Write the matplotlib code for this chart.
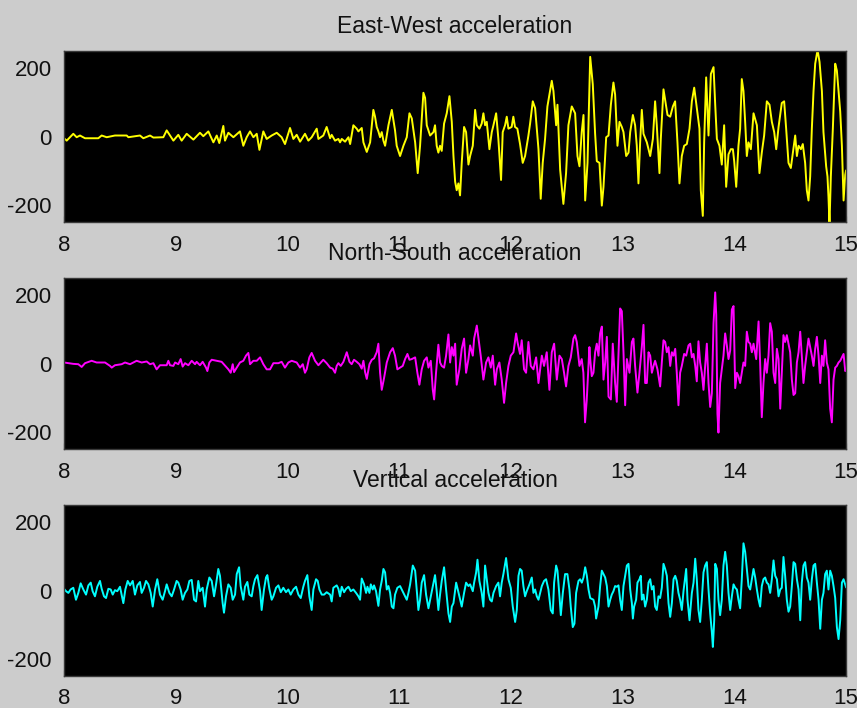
import matplotlib
matplotlib.use("Agg")
import matplotlib.pyplot as plt

# --- data (time in s, acceleration) ---
ew_time = [8.000, 8.024, 8.083, 8.113, 8.143, 8.188, 8.307, 8.337, 8.382, 8.456,
           8.561, 8.576, 8.680, 8.710, 8.770, 8.800, 8.889, 8.919, 8.949, 8.979,
           9.023, 9.053, 9.098, 9.158, 9.217, 9.247, 9.292, 9.337, 9.367, 9.390,
           9.426, 9.441, 9.471, 9.516, 9.575, 9.605, 9.635, 9.665, 9.695, 9.725,
           9.749, 9.784, 9.814, 9.859, 9.904, 9.948, 9.978, 10.023, 10.053, 10.083,
           10.113, 10.157, 10.187, 10.217, 10.262, 10.277, 10.321, 10.351,
           10.382, 10.396, 10.426, 10.456, 10.471, 10.486, 10.516, 10.546, 10.561, 10.590,
           10.620, 10.635, 10.665, 10.680, 10.710, 10.740, 10.769, 10.784, 10.799, 10.814,
           10.829, 10.844, 10.859, 10.874, 10.904, 10.934, 10.963, 10.978, 11.008, 11.038,
           11.068, 11.092, 11.113, 11.143, 11.166, 11.187, 11.217, 11.232, 11.247, 11.277,
           11.307, 11.321, 11.336, 11.351, 11.366, 11.381, 11.402, 11.426, 11.450, 11.471,
           11.486, 11.501, 11.515, 11.530, 11.545, 11.560, 11.581, 11.599, 11.620, 11.635,
           11.659, 11.680, 11.695, 11.718, 11.739, 11.754, 11.769, 11.784, 11.808, 11.829,
           11.844, 11.868, 11.888, 11.903, 11.912, 11.927, 11.948, 11.963, 11.978, 12.007,
           12.022, 12.037, 12.058, 12.082, 12.106, 12.127, 12.157, 12.172, 12.196, 12.217,
           12.247, 12.267, 12.285, 12.306, 12.327, 12.345, 12.366, 12.381, 12.405, 12.417,
           12.441, 12.470, 12.494, 12.515, 12.545, 12.575, 12.596, 12.614, 12.634,
           12.650, 12.665, 12.686, 12.710, 12.733, 12.754, 12.769, 12.793, 12.814, 12.829,
           12.853, 12.874, 12.895, 12.918, 12.933, 12.954, 12.972, 12.993, 13.008, 13.032,
           13.053, 13.068, 13.092, 13.112, 13.127, 13.142, 13.157, 13.172, 13.187, 13.217,
           13.247, 13.271, 13.291, 13.306, 13.330, 13.342, 13.366, 13.390, 13.402, 13.426,
           13.450, 13.470, 13.491, 13.509, 13.530, 13.551, 13.575, 13.599, 13.620, 13.641,
           13.664, 13.688, 13.700, 13.718, 13.730, 13.748, 13.769, 13.790, 13.814, 13.829,
           13.844, 13.867, 13.888, 13.909, 13.927, 13.948, 13.969, 13.987, 13.999, 14.017,
           14.037, 14.052, 14.067, 14.082, 14.097, 14.112, 14.127, 14.148, 14.172, 14.202,
           14.225, 14.246, 14.267, 14.291, 14.315, 14.336, 14.357, 14.375, 14.396, 14.425,
           14.446, 14.464, 14.485, 14.506, 14.524, 14.545, 14.560, 14.575, 14.596, 14.613,
           14.634, 14.649, 14.664, 14.679, 14.694, 14.709, 14.724, 14.745, 14.763, 14.784,
           14.798, 14.822, 14.834, 14.843, 14.852, 14.864, 14.882, 14.903, 14.918, 14.933,
           14.948, 14.963, 14.978, 14.993, 15.000]
ew_accel = [-5, -12, 8, -2, 3, -5, -5, 3, -2, 3,
            3, -2, 3, -5, 3, -3, -2, 18, 3, -12,
            5, -12, 8, -9, 11, 1, 15, -17, 3, -19,
            31, -12, 11, -2, 15, -27, -2, 15, -2, 8,
            -39, 15, -7, 3, 11, -2, -22, 25, -7, 5,
            -15, 8, -12, -2, 23, -7, 3, 28,
            -5, 5, -12, -7, -17, -7, -15, -2, -22, 33,
            23, 15, 25, -17, -45, -17, 78, 58, 28, 15,
            -2, 13, -12, -27, 33, 78, 18, -27, -57, -27,
            -2, 68, 53, -17, -107, -27, 128, 113, 33, 3,
            13, 33, -27, -47, -27, -42, 38, 68, 118, 43,
            -57, -132, -157, -137, -172, -77, 28, 13, -82, -57,
            -27, 78, 33, 23, 38, 68, 33, 43, -37, 13,
            33, 68, -7, -82, -127, 13, 33, 58, 23, 28,
            58, 28, 23, -22, -77, -57, 3, 38, 103, 83,
            -37, -182, -77, -7, 88, 123, 163, 133, 33, 93,
            -97, -197, -107, 33, 88, 68, -57, -87, 13,
            63, -187, -77, 233, 153, 8, -72, -77, -202, -147,
            -2, 3, 93, 158, 123, -27, 43, 28, 13, -57,
            -47, 13, 63, 33, -27, -137, -17, 78, 8, -17,
            -57, -7, 103, 33, -107, -7, 138, 88, 63, 58,
            88, 103, -17, -137, -57, -27, -22, 23, 103, 143,
            83, 23, -157, -232, -17, 173, 3, 183, 203, 93,
            -7, -27, -82, 33, -147, -52, -37, -37, -72, -147,
            -27, 23, 168, 133, 43, -57, -17, -37, 68, 33,
            -107, -47, 3, 103, 93, 43, 13, -37, 28, 98,
            103, 23, -77, -92, -47, 3, -57, -27, -37, -22,
            -77, -157, -187, -117, 23, 133, 213, 253, 218, 133,
            13, -87, -117, -177, -257, -117, 23, 213, 193, 133,
            73, -27, -187, -112, -100]

ns_time = [8.000, 8.083, 8.128, 8.158, 8.188, 8.247, 8.292, 8.367, 8.412, 8.427,
           8.456, 8.516, 8.546, 8.591, 8.650, 8.695, 8.740, 8.770, 8.800, 8.829,
           8.859, 8.919, 8.934, 8.949, 8.979, 8.994, 9.023, 9.044, 9.062, 9.083,
           9.113, 9.143, 9.173, 9.187, 9.217, 9.241, 9.271, 9.283, 9.301, 9.322,
           9.367, 9.411, 9.450, 9.471, 9.492, 9.510, 9.522, 9.546, 9.575, 9.605,
           9.629, 9.650, 9.665, 9.695, 9.725, 9.755, 9.784, 9.814, 9.844, 9.874,
           9.919, 9.948, 9.978, 10.008, 10.038, 10.083, 10.113, 10.137, 10.157, 10.172,
           10.196, 10.217, 10.247, 10.277, 10.321, 10.351,
           10.382, 10.405, 10.426, 10.441, 10.456, 10.477, 10.501, 10.531, 10.555, 10.575,
           10.596, 10.620, 10.644, 10.665, 10.680, 10.695, 10.710, 10.734, 10.755, 10.775,
           10.799, 10.814, 10.829, 10.844, 10.865, 10.889, 10.919, 10.943, 10.963, 10.984,
           11.008, 11.032, 11.053, 11.074, 11.092, 11.113, 11.143, 11.163, 11.181, 11.202,
           11.223, 11.247, 11.262, 11.283, 11.301, 11.313, 11.330, 11.351, 11.366, 11.381,
           11.402, 11.420, 11.441, 11.456, 11.471, 11.486, 11.501, 11.515, 11.539, 11.560,
           11.581, 11.599, 11.620, 11.635, 11.659, 11.671, 11.695, 11.710, 11.730, 11.754,
           11.778, 11.799, 11.820, 11.838, 11.859, 11.874, 11.897, 11.918, 11.939, 11.957,
           11.978, 11.999, 12.023, 12.047, 12.059, 12.082, 12.097, 12.118, 12.136, 12.157,
           12.178, 12.202, 12.226, 12.247, 12.262, 12.277, 12.297, 12.321, 12.345, 12.366,
           12.387, 12.411, 12.435, 12.456, 12.476, 12.494, 12.515, 12.536, 12.560, 12.575,
           12.590, 12.614, 12.634, 12.649, 12.664, 12.679, 12.703,
           12.710, 12.724, 12.739, 12.754, 12.769, 12.784, 12.799, 12.814, 12.829, 12.844,
           12.859, 12.874, 12.895, 12.912, 12.933, 12.948, 12.963, 12.978, 12.993, 13.008,
           13.023, 13.038, 13.062, 13.083, 13.097, 13.112, 13.133, 13.151, 13.172, 13.187,
           13.202, 13.217, 13.232, 13.247, 13.262, 13.277, 13.291, 13.312, 13.336, 13.351,
           13.366, 13.381, 13.396, 13.411, 13.426, 13.441, 13.456, 13.471, 13.485, 13.500,
           13.515, 13.530, 13.551, 13.569, 13.590, 13.605, 13.620, 13.635, 13.650, 13.664,
           13.679, 13.694, 13.709, 13.724, 13.739, 13.754, 13.769, 13.784, 13.799, 13.814,
           13.829, 13.838, 13.849, 13.858, 13.873, 13.888, 13.903, 13.918, 13.933, 13.948,
           13.963, 13.978, 13.993, 14.008, 14.023, 14.037, 14.052, 14.067, 14.082, 14.097,
           14.112, 14.127, 14.142, 14.157, 14.172, 14.196, 14.217, 14.231, 14.246, 14.261,
           14.276, 14.291, 14.306, 14.321, 14.336, 14.351, 14.366, 14.381, 14.396, 14.411,
           14.425, 14.440, 14.455, 14.470, 14.485, 14.500, 14.515, 14.530, 14.545, 14.560,
           14.575, 14.590, 14.604, 14.619, 14.634, 14.649, 14.664, 14.679, 14.694, 14.709,
           14.724, 14.739, 14.754, 14.769, 14.784, 14.798, 14.813, 14.828, 14.843, 14.858,
           14.873, 14.888, 14.903, 14.918, 14.933, 14.948, 14.963, 14.978, 14.993, 15.000]
ns_accel = [3, -1, -2, -10, 1, 8, 3, 3, -7, -12,
            -5, -2, 3, -2, 8, 3, 6, -2, 1, -17,
            -5, -5, 8, -5, -7, 3, -2, 13, -9, 1,
            -5, 8, -2, 5, -5, 5, -12, -22, 3, 11,
            8, 5, -9, -17, -27, -2, -25, -12, 3, 8,
            23, 31, -2, 8, 8, 18, -2, -17, -17, 1,
            1, 5, -12, 3, 8, 3, -12, -2, -27, -17,
            18, 31, 8, -5, 11, 1,
            -12, -15, -27, -7, 1, -7, 5, 33, 5, -2,
            11, 5, -2, -15, 8, -25, -45, -2, 11, 15,
            33, 58, -27, -77, -42, 3, 33, 45, 23, -17,
            -12, -7, 13, 28, 11, 13, 18, -27, -62, -17,
            8, 18, -12, 8, -77, -105, -27, 55, 3, -7,
            -12, 23, 85, 3, 48, 23, 58, -62, -17, 43,
            73, -27, 13, 53, 23, 73, 111, 73, 23, -47,
            3, 18, -12, 23, -62, -17, 3, -47, -115, -57,
            -7, 23, 33, 88, 63, 28, 68, -17, -27, 63,
            -7, -17, 18, -57, -17, 23, -7, 33, -77, 33,
            58, -47, 23, 13, -27, -67, -7, 18, 73, 83,
            63, -7, 13, -27, -172, -107, 48,
            13, -37, -27, 33, 58, 23, 88, 108, -47, 3,
            78, -97, -105, 58, -57, -112, 23, 161, 153, 33,
            -122, 13, -27, 63, 73, -7, -85, -27, 48, 113,
            -57, -57, 33, 23, -27, -7, 8, -17, -67, 3,
            68, 63, 33, 48, -7, 33, 23, 43, -27, -122,
            -27, -7, 28, 23, 53, 58, 18, 28, -7, -52,
            65, 3, -27, -77, -7, 58, -57, -127, -87, 118,
            208, 143, -147, -202, -57, -17, 23, 88, 53, 13,
            38, 158, 168, -72, -27, -37, -57, -27, 3, -7,
            93, 63, 58, 33, 58, 13, 123, 3, -157, -57,
            13, -27, 23, 118, 93, -27, -57, 43, 13, -132,
            -27, 83, 63, 83, 58, 33, -47, -92, -87, 3,
            33, 93, 23, -57, -7, 33, 73, 48, 23, -7,
            43, 78, 23, -57, 23, -7, 68, 3, -17, -132,
            -172, -47, -12, -7, 3, 8, 18, 28, -22, -20]

ud_time = [8.000, 8.018, 8.039, 8.059, 8.083, 8.107, 8.128, 8.149, 8.173, 8.197,
           8.218, 8.239, 8.256, 8.277, 8.298, 8.322, 8.337, 8.358, 8.376, 8.397,
           8.418, 8.436, 8.456, 8.477, 8.501, 8.519, 8.531, 8.549, 8.570, 8.591,
           8.615, 8.635, 8.656, 8.680, 8.695, 8.716, 8.734, 8.755, 8.776, 8.794,
           8.815, 8.835, 8.859, 8.883, 8.904, 8.919, 8.943, 8.964, 8.985, 9.008,
           9.023, 9.044, 9.062, 9.083, 9.104, 9.122, 9.143, 9.164, 9.182, 9.202,
           9.217, 9.241, 9.262, 9.277, 9.301, 9.322, 9.343, 9.361, 9.381, 9.396,
           9.420, 9.432, 9.450, 9.471, 9.492, 9.510, 9.531, 9.546, 9.567, 9.581,
           9.605, 9.620, 9.641, 9.659, 9.680, 9.695, 9.710, 9.731, 9.755, 9.769,
           9.790, 9.808, 9.820, 9.838, 9.859, 9.874, 9.898, 9.919, 9.940, 9.963,
           9.987, 10.008, 10.029, 10.053, 10.077, 10.098, 10.119, 10.142, 10.157, 10.178,
           10.196, 10.217, 10.232, 10.256, 10.271, 10.286, 10.307, 10.328, 10.351,
           10.382, 10.396, 10.411, 10.441, 10.456, 10.471, 10.486, 10.507, 10.525, 10.546,
           10.567, 10.590, 10.614, 10.635, 10.650, 10.665, 10.686, 10.704, 10.716, 10.734,
           10.746, 10.763, 10.775, 10.793, 10.814, 10.829, 10.844, 10.859, 10.874, 10.889,
           10.904, 10.919, 10.934, 10.949, 10.963, 10.984, 11.008, 11.023, 11.038, 11.053,
           11.068, 11.083, 11.098, 11.122, 11.143, 11.157, 11.172, 11.187, 11.202, 11.223,
           11.241, 11.262, 11.283, 11.301, 11.321, 11.336, 11.351, 11.366, 11.381, 11.402,
           11.420, 11.441, 11.456, 11.471, 11.486, 11.510, 11.521, 11.539, 11.560, 11.581,
           11.599, 11.620, 11.635, 11.659, 11.671, 11.689, 11.701, 11.718, 11.739, 11.754,
           11.769, 11.784, 11.799, 11.814, 11.829, 11.844, 11.868, 11.888, 11.903, 11.918,
           11.933, 11.957, 11.978, 11.999, 12.017, 12.038, 12.053, 12.068, 12.082, 12.097,
           12.112, 12.127, 12.142, 12.166, 12.187, 12.202, 12.217, 12.232, 12.247, 12.262,
           12.277, 12.297, 12.315, 12.336, 12.357, 12.375, 12.387, 12.405, 12.417, 12.435,
           12.447, 12.465, 12.485, 12.506, 12.524, 12.536, 12.554, 12.569, 12.584, 12.605,
           12.620, 12.635, 12.650, 12.665, 12.680, 12.695, 12.710, 12.739, 12.754, 12.763,
           12.784, 12.799, 12.814, 12.829, 12.844, 12.859, 12.874, 12.889, 12.903, 12.918,
           12.933, 12.948, 12.963, 12.978, 12.993, 13.008, 13.023, 13.038, 13.053, 13.068,
           13.083, 13.092, 13.103, 13.121, 13.133, 13.151, 13.163, 13.172, 13.187, 13.202,
           13.217, 13.232, 13.247, 13.262, 13.277, 13.291, 13.306, 13.321, 13.336, 13.351,
           13.366, 13.381, 13.396, 13.411, 13.426, 13.441, 13.456, 13.471, 13.485, 13.500,
           13.515, 13.530, 13.545, 13.569, 13.581, 13.599, 13.620, 13.635, 13.650, 13.664,
           13.679, 13.694, 13.709, 13.724, 13.739, 13.754, 13.769, 13.784, 13.799, 13.808,
           13.820, 13.829, 13.844, 13.858, 13.873, 13.888, 13.903, 13.918, 13.933, 13.948,
           13.963, 13.978, 13.993, 14.008, 14.023, 14.037, 14.052, 14.067, 14.082, 14.097,
           14.112, 14.127, 14.142, 14.157, 14.172, 14.187, 14.202, 14.217, 14.231, 14.246,
           14.261, 14.276, 14.291, 14.306, 14.321, 14.336, 14.351, 14.366, 14.381, 14.396,
           14.411, 14.425, 14.440, 14.455, 14.470, 14.485, 14.500, 14.515, 14.530, 14.545,
           14.560, 14.575, 14.590, 14.604, 14.619, 14.634, 14.649, 14.664, 14.679, 14.694,
           14.709, 14.724, 14.739, 14.754, 14.769, 14.784, 14.798, 14.813, 14.828, 14.843,
           14.858, 14.873, 14.888, 14.903, 14.918, 14.933, 14.948, 14.963, 14.978, 14.993,
           15.000]
ud_accel = [5, -2, -7, 3, 8, -27, -7, 21, 3, -12,
            15, 23, -2, -17, 11, 28, 5, -17, -22, 5,
            3, -12, 1, -2, 11, -17, -37, 3, 28, 15,
            28, -12, 15, 25, -7, 8, 28, 18, -7, -47,
            3, 33, -12, -27, -2, 18, -7, -17, 3, 28,
            23, 3, -27, -7, 3, 28, 31, -27, -32, 28,
            -2, 8, -47, 3, 38, 28, -17, 18, 63, 43,
            -37, -65, -17, 18, 8, -27, -12, 48, 68, 13,
            -27, 11, 25, -12, -17, 13, 33, 45, -2, -57,
            3, 38, 45, 5, -27, -17, 8, 15, -5, 8,
            -5, 3, -12, 3, 11, -12, -22, 11, 28, 45,
            -17, -57, 3, 33, 28, 3, -12, -12, -5,
            -12, -32, 8, 15, 5, -17, 11, -5, 5, 11,
            -2, 3, -7, -17, -27, 35, 18, -7, 11, -7,
            18, 3, 15, -2, -45, 3, 28, 63, 53, 3,
            13, -7, -47, -52, -12, 8, 13, 3, -7, -17,
            -27, -7, 18, 73, 58, 3, -57, -27, 23, 45,
            -12, -52, -17, 13, 45, -2, -57, -12, 28, 68,
            3, -67, -92, -47, -37, 23, 8, -17, -47, -7,
            23, 13, 18, -2, 23, 53, 90, 28, -7, -47,
            73, 33, -7, -27, -32, -7, 13, 23, -17, 23,
            48, 95, 33, 8, -47, -92, -57, 43, 63, 58,
            13, -17, -2, 18, 38, -7, 3, -17, -27, -7,
            13, 28, 33, 3, -57, -67, 23, 73, 58, -17,
            -72, -7, 48, 48, 3, -47, -107, -97, -7, 28,
            33, 23, 38, 68, 43, 3, -22, -27, -47, -82,
            -47, 13, 58, 48, 38, 13, -47, -27, -12, -2,
            13, 11, 15, -27, -57, 13, 43, 73, 78, 3,
            -37, -82, -47, -27, 23, 33, 43, -27, -12, -47,
            -27, 23, 33, 3, 13, -47, -57, -17, -22, 8,
            78, 63, 43, -37, -77, -37, 33, 43, 28, -7,
            -27, -57, -2, 63, -27, -87, -7, 23, 93, 33,
            -57, -92, -27, 53, 73, 83, 3, -67, -122, -165,
            -87, 78, 63, -27, -72, -27, 73, 113, 73, -7,
            -57, -17, 18, 8, 3, -27, -52, 33, 138, 113,
            63, 13, 3, 33, 63, 38, 3, -27, -47, 13,
            33, 38, 23, 18, -7, 33, 88, 43, 33, -17,
            3, 8, 98, 43, -27, -62, -47, 13, 83, 78,
            33, 3, -87, 23, 73, 83, 38, 23, -27, 33,
            73, 78, 23, -27, -112, -27, -7, 48, 58, 3,
            58, 43, 13, -22, -107, -142, -87, 23, 33, 18,
            10]

panels = [
    ("East-West acceleration", ew_time, ew_accel, "#ffff00"),
    ("North-South acceleration", ns_time, ns_accel, "#ff00ff"),
    ("Vertical acceleration", ud_time, ud_accel, "#00ffff"),
]

plt.rcParams["font.family"] = ["Liberation Sans", "DejaVu Sans"]
plt.rcParams["axes.unicode_minus"] = False

fig = plt.figure(figsize=(8.57, 7.08), dpi=100)
fig.patch.set_facecolor("#cccccc")

bottoms = [0.6864, 0.3658, 0.0452]
for (title, t, acc, color), bottom in zip(panels, bottoms):
    ax = fig.add_axes([0.0747, bottom, 0.9125, 0.2415])
    ax.set_facecolor("black")
    ax.plot(t, acc, color=color, linewidth=1.4)
    ax.set_xlim(8, 15)
    ax.set_ylim(-250, 250)
    ax.set_xticks(range(8, 16))
    ax.set_yticks([-200, 0, 200])
    ax.tick_params(direction="in", length=4, color="black",
                   labelsize=16, labelcolor="#111111", pad=9)
    for s in ax.spines.values():
        s.set_color("#3a3a3a")
        s.set_linewidth(1.0)
    ax.set_title(title, fontsize=16.5, color="#111111", pad=13)

fig.savefig("out.png", dpi=100, facecolor=fig.get_facecolor())
